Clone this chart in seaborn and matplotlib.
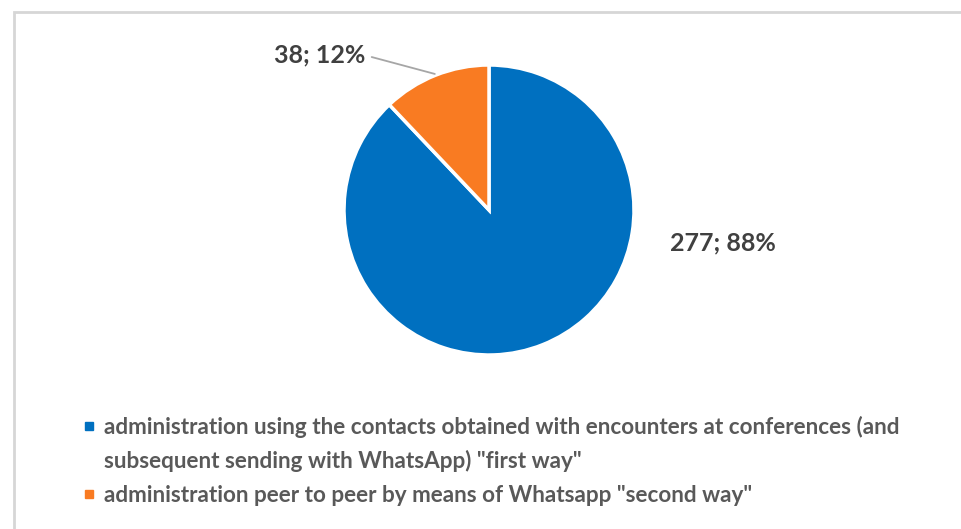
import matplotlib
matplotlib.use("Agg")
import numpy as np
import matplotlib.pyplot as plt
import seaborn as sns
from matplotlib.lines import Line2D
from matplotlib.patches import Rectangle

# =========================
# Data
# =========================
categories = [
    'administration using the contacts obtained with encounters at conferences (and',
    'administration peer to peer by means of Whatsapp "second way"',
]
extra_line = 'subsequent sending with WhatsApp) "first way"'
counts = [277, 38]
percents = [88, 12]
colors = ['#0070C0', '#F97B22']

sns.set_theme(style='white')
plt.rcParams['font.family'] = ['Lato', 'DejaVu Sans']

fig = plt.figure(figsize=(9.61, 5.29), dpi=100)
W, H = 961, 529

# frame like the office chart area
fig.patches.append(Rectangle((14 / W, -0.1), 1.1, (529 - 12) / H + 0.1,
                             transform=fig.transFigure, fill=False,
                             edgecolor='#d6d6d6', linewidth=2))

# pie axes: centre (489, 210), radius 145 px
ax = fig.add_axes([(489 - 145) / W, (529 - 355) / H, 290 / W, 290 / H])
wedges, _ = ax.pie(counts, colors=colors, startangle=90, counterclock=False,
                   radius=1, wedgeprops=dict(edgecolor='white', linewidth=2.5))
ax.set_xlim(-1, 1)
ax.set_ylim(-1, 1)
ax.set_aspect('equal')
ax.axis('off')

lab = [f'{c}; {p}%' for c, p in zip(counts, percents)]
ax.text(1.61, -0.23, lab[0], ha='center', va='center', fontsize=18,
        fontweight='bold', color='#404040')

# orange label with leader line
w = wedges[1]
mid = np.deg2rad((w.theta1 + w.theta2) / 2)
ex, ey = 1.01 * np.cos(mid), 1.01 * np.sin(mid)
ax.annotate(lab[1], xy=(ex, ey), xytext=(-0.85, 1.07), ha='right', va='center',
            fontsize=18, fontweight='bold', color='#404040',
            arrowprops=dict(arrowstyle='-', color='#a6a6a6', lw=1.3,
                            shrinkA=2, shrinkB=0,
                            connectionstyle='angle,angleA=0,angleB=-15,rad=0'),
            annotation_clip=False)

# legend
handles = [
    Line2D([], [], marker='s', linestyle='', markersize=6, color=colors[0]),
    Line2D([], [], marker='s', linestyle='', markersize=6, color='none'),
    Line2D([], [], marker='s', linestyle='', markersize=6, color=colors[1]),
]
labels = [categories[0], extra_line, categories[1]]
leg = fig.legend(handles, labels, loc='upper left',
                 bbox_to_anchor=(82 / W, (529 - 416) / H),
                 frameon=False, handlelength=0.6, handletextpad=0.4,
                 labelspacing=0.55, borderpad=0, borderaxespad=0,
                 prop=dict(size=16.2, weight='bold'), labelcolor='#595959')

plt.savefig('out.png', dpi=100)
